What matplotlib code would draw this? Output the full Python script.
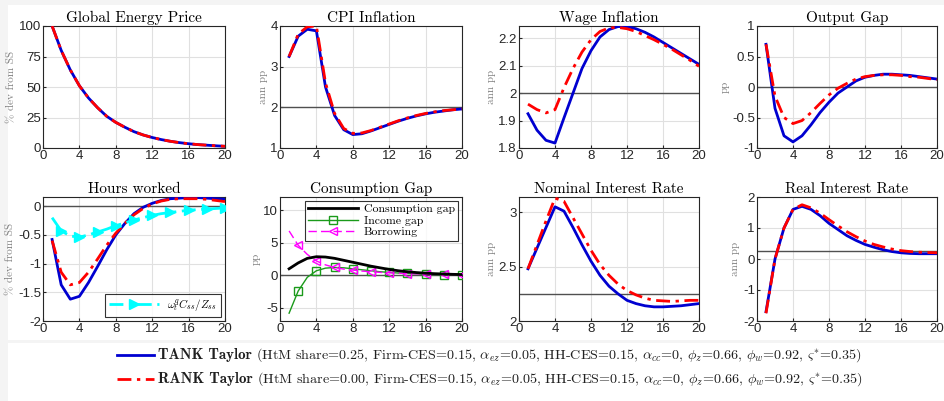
import matplotlib
matplotlib.use("Agg")
import matplotlib.pyplot as plt
from matplotlib.lines import Line2D
from matplotlib.patches import Rectangle
import numpy as np

plt.rcParams.update({"mathtext.fontset": "cm", "font.family": ["Liberation Sans", "DejaVu Sans"]})
SERIF = "cmr10"
BLUE, RED = "#0000d0", "#ff0000"

t = np.arange(1, 21)

# Global energy price (% dev from SS)
energy = [100, 80, 64, 51, 41, 33, 26, 21, 17, 13.4, 10.7, 8.6, 6.9, 5.5, 4.4, 3.5, 2.8, 2.3, 1.8, 1.4]
# CPI inflation (ann pp)
cpi_tank = [3.25, 3.75, 3.92, 3.88, 2.5, 1.8, 1.45, 1.33, 1.35, 1.42, 1.5, 1.58, 1.66, 1.73, 1.79, 1.84, 1.88, 1.91, 1.94, 1.96]
cpi_rank = [3.25, 3.8, 3.98, 4.0, 2.6, 1.85, 1.48, 1.36, 1.37, 1.43, 1.51, 1.59, 1.67, 1.74, 1.8, 1.85, 1.89, 1.92, 1.94, 1.96]
# Wage inflation (ann pp)
wage_tank = [1.925, 1.865, 1.828, 1.818, 1.91, 2.0, 2.09, 2.155, 2.205, 2.232, 2.243, 2.243, 2.235, 2.222, 2.205,
             2.185, 2.165, 2.145, 2.125, 2.105]
wage_rank = [1.96, 1.94, 1.928, 1.94, 2.02, 2.09, 2.15, 2.195, 2.225, 2.238, 2.24, 2.235, 2.225, 2.21, 2.195,
             2.178, 2.16, 2.14, 2.12, 2.098]
# Output gap (pp)
gap_tank = [0.7, -0.35, -0.8, -0.9, -0.8, -0.62, -0.42, -0.25, -0.1, 0.0, 0.1, 0.16, 0.19, 0.21, 0.21, 0.2, 0.19,
            0.17, 0.15, 0.13]
gap_rank = [0.7, -0.15, -0.5, -0.6, -0.55, -0.42, -0.27, -0.13, -0.02, 0.06, 0.13, 0.17, 0.19, 0.2, 0.2, 0.19, 0.17,
            0.16, 0.14, 0.12]
# Hours worked (% dev from SS)
hours_tank = [-0.58, -1.37, -1.62, -1.57, -1.33, -1.05, -0.76, -0.5, -0.3, -0.13, -0.02, 0.05, 0.1, 0.13, 0.14, 0.15,
              0.15, 0.14, 0.13, 0.12]
hours_rank = [-0.6, -1.15, -1.37, -1.33, -1.15, -0.92, -0.68, -0.47, -0.3, -0.15, -0.04, 0.04, 0.09, 0.12, 0.13, 0.13,
              0.13, 0.12, 0.1, 0.08]
hours_wc = [-0.2, -0.43, -0.52, -0.54, -0.5, -0.45, -0.4, -0.34, -0.29, -0.24, -0.2, -0.16, -0.13, -0.11, -0.09, -0.07,
            -0.06, -0.05, -0.04, -0.03]
# Consumption gap decomposition (pp)
cons_gap = [1.0, 1.9, 2.6, 2.85, 2.8, 2.6, 2.3, 2.0, 1.7, 1.4, 1.15, 0.9, 0.7, 0.55, 0.42, 0.33, 0.25, 0.2, 0.15, 0.12]
income_gap = [-5.8, -2.4, -0.3, 0.7, 1.1, 1.2, 1.15, 1.0, 0.85, 0.7, 0.55, 0.45, 0.35, 0.28, 0.22, 0.17, 0.13, 0.1,
              0.08, 0.06]
borrowing = [6.8, 4.6, 3.2, 2.2, 1.6, 1.2, 0.95, 0.8, 0.65, 0.55, 0.45, 0.38, 0.32, 0.27, 0.23, 0.2, 0.17, 0.15, 0.12,
             0.1]
# Nominal interest rate (ann pp)
nom_tank = [2.48, 2.67, 2.86, 3.05, 3.01, 2.86, 2.7, 2.55, 2.42, 2.32, 2.25, 2.19, 2.16, 2.14, 2.13, 2.13, 2.135,
            2.14, 2.15, 2.16]
nom_rank = [2.48, 2.7, 2.92, 3.13, 3.1, 2.95, 2.8, 2.65, 2.52, 2.42, 2.34, 2.28, 2.24, 2.21, 2.19, 2.185, 2.18,
            2.185, 2.19, 2.19]
# Real interest rate (ann pp)
real_tank = [-1.7, 0.0, 1.0, 1.6, 1.7, 1.6, 1.4, 1.15, 0.95, 0.75, 0.6, 0.47, 0.38, 0.3, 0.24, 0.2, 0.18, 0.17, 0.17,
             0.17]
real_rank = [-1.75, 0.0, 1.0, 1.6, 1.75, 1.65, 1.48, 1.27, 1.07, 0.88, 0.72, 0.58, 0.47, 0.39, 0.32, 0.27, 0.24, 0.22,
             0.21, 0.2]

W, H = 944, 401
fig = plt.figure(figsize=(W / 100, H / 100), dpi=100)
fig.patch.set_facecolor("white")
# light screenshot border
for r in [(0, 0, 8, H), (0, 0, W, 5), (0, 340, W, 3)]:
    x0, y0, w, h = r
    fig.add_artist(Rectangle((x0 / W, 1 - (y0 + h) / H), w / W, h / H, transform=fig.transFigure,
                             facecolor="#f4f4f4", edgecolor="none", zorder=0))

cols = [(43, 225), (280, 462), (519, 699), (757, 937)]
rows = [(26, 148), (197, 321)]


def make_ax(r, c):
    x0, x1 = cols[c]
    y0, y1 = rows[r]
    ax = fig.add_axes([x0 / W, 1 - y1 / H, (x1 - x0) / W, (y1 - y0) / H])
    ax.set_xlim(0, 20)
    ax.set_xticks(range(0, 21, 4))
    ax.grid(True, color="#e0e0e0", lw=0.8)
    ax.set_axisbelow(True)
    ax.tick_params(direction="in", length=2.5, labelsize=9.5, colors="#262626", pad=1.5)
    for s in ax.spines.values():
        s.set_color("#262626")
        s.set_linewidth(0.8)
    return ax


def title(ax, s):
    ax.set_title(s, fontfamily=SERIF, fontsize=11, pad=3)


def ylab(ax, s):
    ax.set_ylabel(s, fontfamily=SERIF, fontsize=8, color="#808080", labelpad=2)


def pair(ax, a, b):
    ax.plot(t, a, color=BLUE, lw=2, zorder=3)
    ax.plot(t, b, color=RED, lw=2, ls=(0, (5, 2, 1.2, 2)), zorder=4)


def hline(ax, y):
    ax.axhline(y, color="#505050", lw=1, zorder=2)


ax = make_ax(0, 0)
ax.plot(t, energy, color=BLUE, lw=2, zorder=3)
ax.plot(t, energy, color=RED, lw=2, ls=(0, (5, 2, 1.2, 2)), zorder=4)
ax.set_ylim(0, 100)
ax.set_yticks([0, 25, 50, 75, 100])
title(ax, "Global Energy Price"); ylab(ax, "% dev from SS")

ax = make_ax(0, 1)
hline(ax, 2)
pair(ax, cpi_tank, cpi_rank)
ax.set_ylim(1, 4)
ax.set_yticks([1, 2, 3, 4])
title(ax, "CPI Inflation"); ylab(ax, "ann pp")

ax = make_ax(0, 2)
hline(ax, 2)
pair(ax, wage_tank, wage_rank)
ax.set_ylim(1.8, 2.245)
ax.set_yticks([1.8, 1.9, 2.0, 2.1, 2.2])
ax.set_yticklabels(["1.8", "1.9", "2", "2.1", "2.2"])
title(ax, "Wage Inflation"); ylab(ax, "ann pp")

ax = make_ax(0, 3)
hline(ax, 0)
pair(ax, gap_tank, gap_rank)
ax.set_ylim(-1, 1)
ax.set_yticks([-1, -0.5, 0, 0.5, 1])
ax.set_yticklabels(["-1", "-0.5", "0", "0.5", "1"])
title(ax, "Output Gap"); ylab(ax, "pp")

ax = make_ax(1, 0)
hline(ax, 0)
pair(ax, hours_tank, hours_rank)
ax.plot(t, hours_wc, color="#00ffff", lw=2, ls=(0, (5, 2, 1.2, 2)), marker=">", ms=7.5, markevery=slice(1, None, 2),
        zorder=5, label=r"$\omega^q_t C_{ss}/Z_{ss}$")
ax.set_ylim(-2, 0.16)
ax.set_yticks([-2, -1.5, -1, -0.5, 0])
ax.set_yticklabels(["-2", "-1.5", "-1", "-0.5", "0"])
lg = ax.legend(loc="lower right", fontsize=8, frameon=True, fancybox=False, edgecolor="black",
               borderpad=0.3, handlelength=4.5, borderaxespad=0.4)
lg.get_frame().set_linewidth(0.8)
title(ax, "Hours worked"); ylab(ax, "% dev from SS")

ax = make_ax(1, 1)
hline(ax, 0)
ax.plot(t, cons_gap, color="black", lw=2, zorder=4, label="Consumption gap")
ax.plot(t, income_gap, color="#1a9a1a", lw=1, marker="s", ms=5.5, mfc="none", markevery=slice(1, None, 2),
        zorder=3, label="Income gap")
ax.plot(t, borrowing, color="#ff00ff", lw=1, ls=(0, (6, 3)), marker="<", ms=5.5, mfc="none",
        markevery=slice(1, None, 2), zorder=3, label="Borrowing")
ax.set_ylim(-7, 12)
ax.set_yticks([-5, 0, 5, 10])
ax.set_yticklabels(["-5", "0", "5", "10"])
lg = ax.legend(loc="upper right", prop={"family": SERIF, "size": 8.5}, frameon=True, fancybox=False,
               edgecolor="black", borderpad=0.3, labelspacing=0.1, handlelength=4.2, handletextpad=0.5,
               borderaxespad=0.3)
lg.get_frame().set_linewidth(0.8)
title(ax, "Consumption Gap"); ylab(ax, "pp")

ax = make_ax(1, 2)
hline(ax, 2.25)
pair(ax, nom_tank, nom_rank)
ax.set_ylim(2, 3.14)
ax.set_yticks([2, 2.5, 3])
ax.set_yticklabels(["2", "2.5", "3"])
title(ax, "Nominal Interest Rate"); ylab(ax, "ann pp")

ax = make_ax(1, 3)
hline(ax, 0.25)
pair(ax, real_tank, real_rank)
ax.set_ylim(-2, 2)
ax.set_yticks([-2, -1, 0, 1, 2])
ax.set_yticklabels(["-2", "-1", "0", "1", "2"])
title(ax, "Real Interest Rate"); ylab(ax, "ann pp")

# bottom legend
params = (r"(HtM share=%s, Firm-CES=0.15, $\alpha_{ez}$=0.05, HH-CES=0.15, $\alpha_{cc}$=0, "
          r"$\phi_z$=0.66, $\phi_w$=0.92, $\varsigma^{*}$=0.35)")
for y, col, ls, name, share in [(355, BLUE, "-", "TANK Taylor", "0.25"),
                                (379, RED, (0, (5, 2, 1.2, 2)), "RANK Taylor", "0.00")]:
    fy = 1 - y / H
    fig.add_artist(Line2D([117 / W, 154 / W], [fy, fy], color=col, lw=2, ls=ls, transform=fig.transFigure))
    tx = fig.text(158 / W, fy, name, fontfamily="cmb10", fontsize=10.8, va="center", color="#202020")
    fig.canvas.draw()
    bb = tx.get_window_extent()
    fig.text((bb.x1 + 4) / W, fy, params % share, fontfamily=SERIF, fontsize=10.2, va="center", color="#202020")

fig.savefig("out.png", dpi=100)
